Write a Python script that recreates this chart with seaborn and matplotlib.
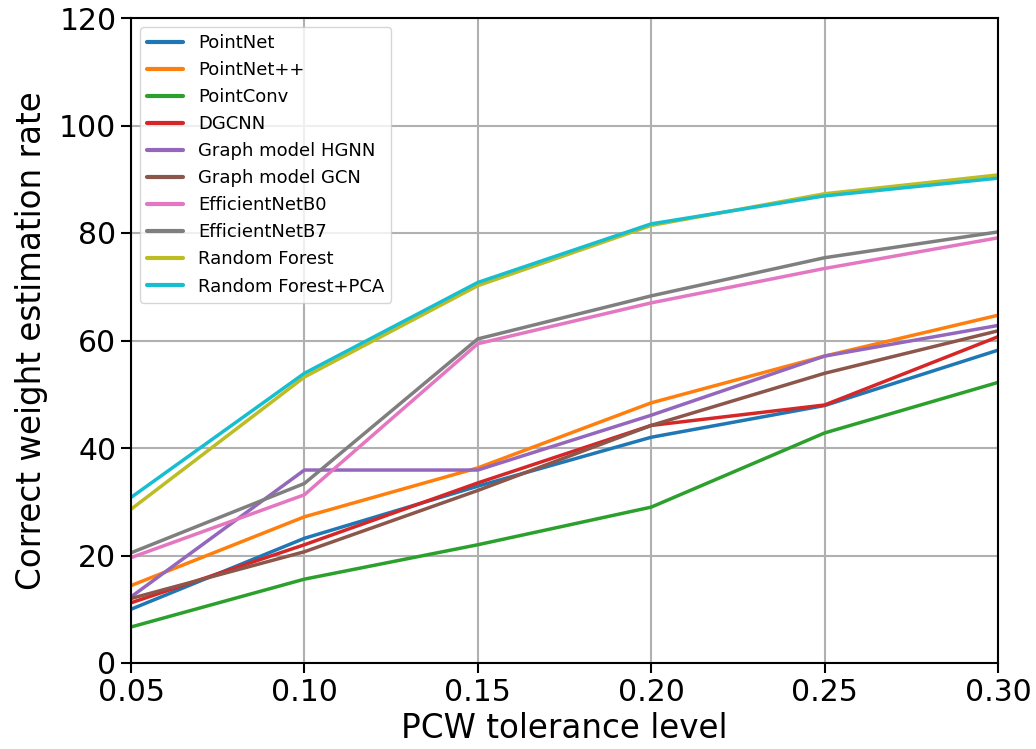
import matplotlib
matplotlib.use("Agg")
import matplotlib.pyplot as plt
import seaborn as sns
import pandas as pd
from matplotlib.ticker import FormatStrFormatter

tolerance = [0.05, 0.10, 0.15, 0.20, 0.25, 0.30]
models = ["PointNet", "PointNet++", "PointConv", "DGCNN", "Graph model HGNN",
          "Graph model GCN", "EfficientNetB0", "EfficientNetB7", "Random Forest",
          "Random Forest+PCA"]

pointnet = [10.0, 23.2, 32.9, 42.0, 47.9, 58.2]
pointnet_pp = [14.4, 27.2, 36.3, 48.4, 57.1, 64.7]
pointconv = [6.7, 15.6, 22.0, 29.0, 42.8, 52.2]
dgcnn = [11.2, 22.0, 33.5, 44.2, 48.0, 60.7]
hgnn = [12.3, 35.9, 35.9, 46.1, 57.1, 62.8]
gcn = [12.0, 20.7, 32.1, 44.2, 53.9, 61.8]
effb0 = [19.6, 31.3, 59.4, 67.0, 73.4, 79.1]
effb7 = [20.5, 33.4, 60.3, 68.3, 75.4, 80.2]
rf = [28.6, 53.2, 70.2, 81.4, 87.3, 90.8]
rf_pca = [30.8, 53.9, 70.8, 81.7, 86.9, 90.2]

series = [pointnet, pointnet_pp, pointconv, dgcnn, hgnn, gcn, effb0, effb7, rf, rf_pca]

rows = []
for m, vals in zip(models, series):
    for t, v in zip(tolerance, vals):
        rows.append({"tol": t, "rate": v, "model": m})
df = pd.DataFrame(rows)

sns.set_style("ticks")
plt.rcParams['font.family'] = ['DejaVu Sans']
plt.rcParams['text.color'] = 'black'
plt.rcParams['axes.labelcolor'] = 'black'
plt.rcParams['xtick.color'] = 'black'
plt.rcParams['ytick.color'] = 'black'

fig = plt.figure(figsize=(10.36, 7.49), dpi=100)
ax = fig.add_axes([131/1036, 1-663/749, (998-131)/1036, (663-18)/749])

sns.lineplot(data=df, x="tol", y="rate", hue="model", hue_order=models,
             palette="tab10", linewidth=2.5, ax=ax)

ax.set_xlim(0.05, 0.30)
ax.set_ylim(0, 120)
ax.set_xticks(tolerance)
ax.xaxis.set_major_formatter(FormatStrFormatter('%.2f'))
ax.set_yticks([0, 20, 40, 60, 80, 100, 120])
ax.tick_params(labelsize=21.5, length=7, width=1.5, colors='black')
ax.grid(True, color='#b0b0b0', linewidth=1.5)
for s in ax.spines.values():
    s.set_linewidth(1.5)
    s.set_color('black')
ax.set_xlabel("PCW tolerance level", fontsize=23.5, labelpad=4)
ax.set_ylabel("Correct weight estimation rate", fontsize=23.5, labelpad=8)

leg = ax.legend(loc='upper left', fontsize=13, frameon=True, borderaxespad=0.5)
for t in leg.get_texts():
    t.set_color('black')
for line in leg.get_lines():
    line.set_linewidth(3)

fig.savefig("out.png", dpi=100)
